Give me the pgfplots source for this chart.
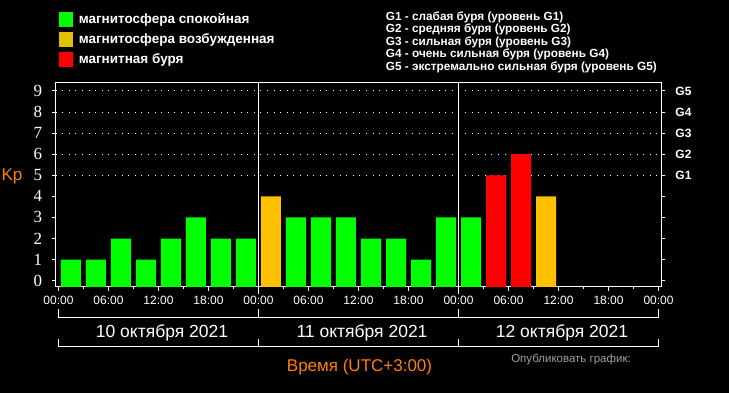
\documentclass[border=0pt]{standalone}
\usepackage{fontspec}
\setmainfont{Liberation Sans}
\newfontfamily\serifdigits{Liberation Serif}
\usepackage{pgfplots}
\pgfplotsset{compat=1.18}
\usetikzlibrary{backgrounds}
\definecolor{kgreen}{RGB}{0,255,0}
\definecolor{kyellow}{RGB}{255,192,0}
\definecolor{klegyellow}{RGB}{224,192,0}
\definecolor{kred}{RGB}{255,0,0}
\definecolor{korange}{RGB}{255,128,0}
\definecolor{kgray}{RGB}{160,160,160}
\newcommand\fs[1]{\fontsize{#1}{#1}\selectfont}
\begin{document}
\begin{tikzpicture}[x=1pt,y=1pt]
\begin{axis}[
  clip=false,
  scale only axis, width=605.6pt, height=204.3pt,
  xmin=-0.33, xmax=72.33, ymin=-0.3, ymax=9.39,
  y coord trafo/.code={\pgfmathparse{#1+0.3}},
  y coord inv trafo/.code={\pgfmathparse{#1-0.3}},
  axis line style={white, line width=1pt},
  every tick/.style={white, line width=1pt},
  tick align=outside,
  major tick length=4pt, minor tick length=2pt,
  xtick={0,6,...,72}, minor xtick={3,9,...,69},
  xtick pos=lower,
  xticklabels={00:00,06:00,12:00,18:00,00:00,06:00,12:00,18:00,00:00,06:00,12:00,18:00,00:00},
  xticklabel style={font=\fs{12}, text=white, yshift=-2pt},
  ytick={0,1,2,3,4,5,6,7,8,9},
  yticklabels={0,1,2,3,4,5,6,7,8,9},
  ytick pos=both, yticklabel pos=left,
  yticklabel style={font=\serifdigits\fs{17}, text=white, inner sep=0pt, xshift=-9.4pt},
  extra x ticks={24,48}, extra x tick labels={},
  extra x tick style={grid=major, major grid style={white, line width=1pt}, major tick length=7pt},
  extra y ticks={5,6,7,8,9}, extra y tick labels={},
  extra y tick style={grid=major, major grid style={white, line width=1pt, dash pattern=on 1pt off 5.6pt}},
  ylabel={Kp},
  ylabel style={at={(axis description cs:-0.0722,0.5203)}, rotate=-90, anchor=base, font=\fs{17}, text=korange},
  xlabel={Время (UTC+3:00)},
  xlabel style={at={(axis description cs:0.5017,-0.4146)}, anchor=base, font=\fs{17}, text=korange},
  legend style={at={(axis description cs:0.00545,1.3446)}, anchor=north west, draw=none, fill=none,
    inner sep=0pt, outer sep=0pt, font=\bfseries\fs{13.5}, text=white, row sep=5.6pt,
    nodes={inner sep=0pt, text height=10pt, text depth=3pt, anchor=base west},
    /tikz/every odd column/.style={column sep=5.4pt}},
  legend cell align=left,
]
\addplot[ybar, bar width=2.4, bar shift=0pt, fill=kgreen, draw=none,
  legend image code/.code={\fill[kgreen] (0pt,-3.4pt) rectangle (14.4pt,11pt);}]
  coordinates {(1.5,1) (4.5,1) (7.5,2) (10.5,1) (13.5,2) (16.5,3) (19.5,2) (22.5,2)
               (28.5,3) (31.5,3) (34.5,3) (37.5,2) (40.5,2) (43.5,1) (46.5,3) (49.5,3)};
\addlegendentry{магнитосфера спокойная}
\addplot[ybar, bar width=2.4, bar shift=0pt, fill=kyellow, draw=none,
  legend image code/.code={\fill[klegyellow] (0pt,-3.4pt) rectangle (14.4pt,11pt);}]
  coordinates {(25.5,4) (58.5,4)};
\addlegendentry{магнитосфера возбужденная}
\addplot[ybar, bar width=2.4, bar shift=0pt, fill=kred, draw=none,
  legend image code/.code={\fill[kred] (0pt,-3.4pt) rectangle (14.4pt,11pt);}]
  coordinates {(52.5,5) (55.5,6)};
\addlegendentry{магнитная буря}
\node[font=\bfseries\fs{12}, text=white] at ([xshift=22.2pt]axis cs:72.33,5) {G1};
\node[font=\bfseries\fs{12}, text=white] at ([xshift=22.2pt]axis cs:72.33,6) {G2};
\node[font=\bfseries\fs{12}, text=white] at ([xshift=22.2pt]axis cs:72.33,7) {G3};
\node[font=\bfseries\fs{12}, text=white] at ([xshift=22.2pt]axis cs:72.33,8) {G4};
\node[font=\bfseries\fs{12}, text=white] at ([xshift=22.2pt]axis cs:72.33,9) {G5};
\coordinate (SW) at (rel axis cs:0,0);
\end{axis}
\begin{scope}[shift={(SW)}, xshift=-55.7pt, yshift=-106pt]
\begin{scope}[on background layer]
\fill[black] (0,0) rectangle (729,393);
\end{scope}
% date brackets
\draw[white, line width=1pt] (58.5,393-309.5) -- (58.5,393-317.3) -- (658.5,393-317.3) -- (658.5,393-309.5);
\draw[white, line width=1pt] (258.5,393-309.5) -- (258.5,393-317.3);
\draw[white, line width=1pt] (458.5,393-309.5) -- (458.5,393-317.3);
\draw[white, line width=1pt] (58.5,393-339.5) -- (58.5,393-347) -- (658.5,393-347) -- (658.5,393-339.5);
\draw[white, line width=1pt] (258.5,393-339.5) -- (258.5,393-347);
\draw[white, line width=1pt] (458.5,393-339.5) -- (458.5,393-347);
\node[anchor=base, text=white, font=\fs{17.5}] at (162,393-337.3) {10 октября 2021};
\node[anchor=base, text=white, font=\fs{17.5}] at (362,393-337.3) {11 октября 2021};
\node[anchor=base, text=white, font=\fs{17.5}] at (562,393-337.3) {12 октября 2021};
\node[anchor=base, text=kgray, font=\fs{11.5}] at (571,393-362.7) {Опубликовать график:};
% G scale description
\begin{scope}[every node/.style={anchor=base west, text=white, font=\bfseries\fs{11.8}, inner sep=0pt}]
\node at (385.7,393-20.5) {G1 - слабая буря (уровень G1)};
\node at (385.7,393-33) {G2 - средняя буря (уровень G2)};
\node at (385.7,393-45.5) {G3 - сильная буря (уровень G3)};
\node at (385.7,393-58) {G4 - очень сильная буря (уровень G4)};
\node at (385.7,393-70.5) {G5 - экстремально сильная буря (уровень G5)};
\end{scope}
\pgfresetboundingbox
\path[use as bounding box] (0,0) rectangle (729,393);
\end{scope}
\end{tikzpicture}
\end{document}
